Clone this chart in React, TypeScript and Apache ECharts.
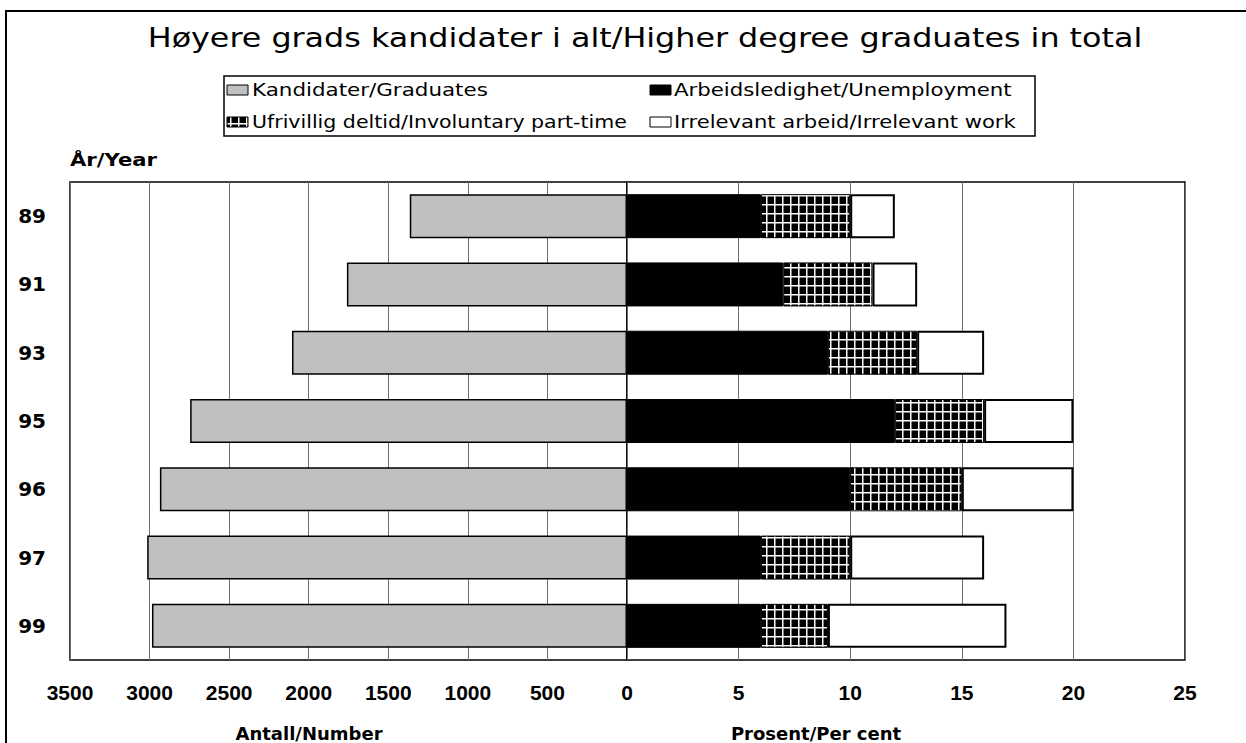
import React, { useEffect, useRef } from "react";
import * as echarts from "echarts";

const years = ["89", "91", "93", "95", "96", "97", "99"];
const graduates = [1365, 1760, 2105, 2745, 2935, 3015, 2985];
const unemployment = [6, 7, 9, 12, 10, 6, 6];
const partTime = [4, 4, 4, 4, 5, 4, 3];
const irrelevant = [2, 2, 3, 4, 5, 6, 8];
const numberTicks = { min: 0, max: 3500, interval: 500 };
const percentTicks = { min: 0, max: 25, interval: 5 };

const TITLE = "Høyere grads kandidater i alt/Higher degree graduates in total";
const NAME_GRAD = "Kandidater/Graduates";
const NAME_UNEMP = "Arbeidsledighet/Unemployment";
const NAME_PART = "Ufrivillig deltid/Involuntary part-time";
const NAME_IRR = "Irrelevant arbeid/Irrelevant work";

const FONT = "DejaVu Sans";
const DIGITS = "Liberation Sans";

function makePattern() {
  const c = document.createElement("canvas");
  c.width = 8;
  c.height = 9;
  const ctx = c.getContext("2d")!;
  ctx.fillStyle = "#000";
  ctx.fillRect(0, 0, 8, 9);
  ctx.fillStyle = "#fff";
  ctx.fillRect(6, 0, 1.5, 9);
  ctx.fillRect(0, 6, 8, 1.5);
  return { image: c, repeat: "repeat" as const };
}

function measure(text: string, font: string) {
  const c = document.createElement("canvas");
  const ctx = c.getContext("2d")!;
  ctx.font = font;
  return ctx.measureText(text).width;
}

function fitText(text: string, x: number, y: number, width: number, size: number, bold: boolean, align: "left" | "center") {
  const font = `${bold ? "bold " : ""}${size}px "${FONT}"`;
  const w = measure(text, font) || width;
  return {
    type: "text",
    x,
    y,
    scaleX: width / w,
    silent: true,
    style: {
      text,
      x: 0,
      y: 0,
      fontFamily: FONT,
      fontSize: size,
      fontWeight: bold ? "bold" : "normal",
      fill: "#000",
      align,
      verticalAlign: "middle",
    },
  };
}

export default function App() {
  const ref = useRef<HTMLDivElement>(null);
  useEffect(() => {
    if (!ref.current) return;
    const chart = echarts.init(ref.current, undefined, { renderer: "svg" });
    const pattern = makePattern();
    const plotTop = 182;
    const plotH = 478;
    const tickLabel = { fontFamily: DIGITS, fontWeight: "bold" as const, fontSize: 21, color: "#000" };

    const legendIcon = (x: number, y: number, fill: any) => ({
      type: "rect",
      silent: true,
      shape: { x, y, width: 21, height: 10 },
      style: { fill, stroke: "#000", lineWidth: 1 },
    });

    chart.setOption({
      animation: false,
      backgroundColor: "#fff",
      grid: [
        { left: 70, width: 557, top: plotTop, height: plotH, show: true, borderColor: "#000", borderWidth: 1.5, backgroundColor: "transparent" },
        { left: 627, width: 558, top: plotTop, height: plotH, show: true, borderColor: "#000", borderWidth: 1.5, backgroundColor: "transparent" },
      ],
      xAxis: [
        {
          type: "value", gridIndex: 0, inverse: true, ...numberTicks,
          axisLine: { show: false }, axisTick: { show: false },
          splitLine: { show: true, lineStyle: { color: "#6e6e6e", width: 1 } },
          axisLabel: { ...tickLabel, margin: 22, formatter: (v: number) => String(v) },
        },
        {
          type: "value", gridIndex: 1, ...percentTicks,
          axisLine: { show: false }, axisTick: { show: false },
          splitLine: { show: true, lineStyle: { color: "#6e6e6e", width: 1 } },
          axisLabel: { ...tickLabel, margin: 22, formatter: (v: number) => (v === 0 ? "" : String(v)) },
        },
      ],
      yAxis: [
        {
          type: "category", gridIndex: 0, data: years, inverse: true,
          axisLine: { show: false }, axisTick: { show: false },
          axisLabel: { fontFamily: FONT, fontWeight: "bold", fontSize: 20, color: "#000", margin: 24 },
        },
        {
          type: "category", gridIndex: 1, data: years, inverse: true,
          axisLine: { show: false }, axisTick: { show: false }, axisLabel: { show: false },
        },
      ],
      legend: { show: false, data: [NAME_GRAD, NAME_UNEMP, NAME_PART, NAME_IRR] },
      graphic: [
        { type: "rect", silent: true, shape: { x: 6, y: 11, width: 1260, height: 800 }, style: { fill: "none", stroke: "#000", lineWidth: 2 } },
        { type: "rect", silent: true, shape: { x: 224, y: 76, width: 811, height: 60 }, style: { fill: "none", stroke: "#000", lineWidth: 1.5 } },
        fitText(TITLE, 645, 38, 995, 27, false, "center"),
        legendIcon(227, 85, "#c0c0c0"),
        legendIcon(227, 117, pattern),
        legendIcon(650, 85, "#000"),
        legendIcon(650, 117, "#fff"),
        fitText(NAME_GRAD, 252, 90, 236, 18, false, "left"),
        fitText(NAME_PART, 252, 122, 375, 18, false, "left"),
        fitText(NAME_UNEMP, 674, 90, 338, 18, false, "left"),
        fitText(NAME_IRR, 674, 122, 342, 18, false, "left"),
        fitText("År/Year", 70, 160, 87, 18, true, "left"),
        { type: "text", silent: true, x: 309, y: 733, style: { text: "Antall/Number", fontFamily: FONT, fontWeight: "bold", fontSize: 18, fill: "#000", align: "center", verticalAlign: "middle" } },
        { type: "text", silent: true, x: 816, y: 733, style: { text: "Prosent/Per cent", fontFamily: FONT, fontWeight: "bold", fontSize: 18, fill: "#000", align: "center", verticalAlign: "middle" } },
      ],
      series: [
        {
          name: NAME_GRAD, type: "bar", xAxisIndex: 0, yAxisIndex: 0, data: graduates,
          barWidth: 44, itemStyle: { color: "#c0c0c0", borderColor: "#000", borderWidth: 1.5 },
        },
        {
          name: NAME_UNEMP, type: "bar", xAxisIndex: 1, yAxisIndex: 1, stack: "p", data: unemployment,
          barWidth: 44, itemStyle: { color: "#000", borderColor: "#000", borderWidth: 1 },
        },
        {
          name: NAME_PART, type: "bar", xAxisIndex: 1, yAxisIndex: 1, stack: "p", data: partTime,
          barWidth: 44, itemStyle: { color: pattern, borderColor: "#000", borderWidth: 1 },
        },
        {
          name: NAME_IRR, type: "bar", xAxisIndex: 1, yAxisIndex: 1, stack: "p", data: irrelevant,
          barWidth: 44, itemStyle: { color: "#fff", borderColor: "#000", borderWidth: 2 },
        },
      ],
    });
    return () => chart.dispose();
  }, []);
  return <div ref={ref} style={{ position: "fixed", left: 0, top: 0, width: 1246, height: 743 }} />;
}
